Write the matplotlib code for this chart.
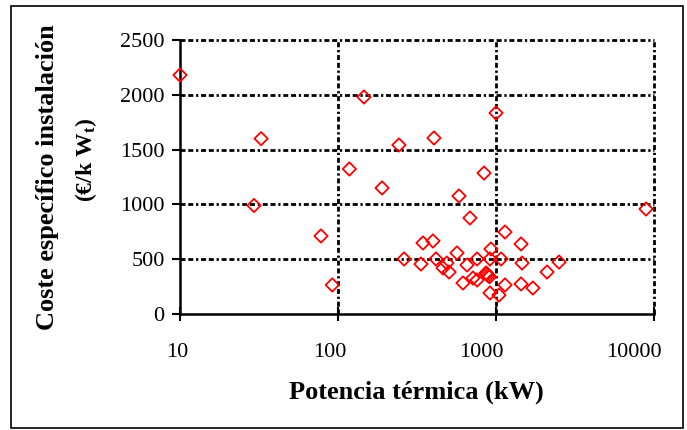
import matplotlib
matplotlib.use("Agg")
import matplotlib.pyplot as plt
import matplotlib.transforms as mtransforms
from matplotlib.patches import Rectangle

# potencia térmica (kW) y coste específico (€/kWt)
potencia = [10, 32.6, 29.4, 78, 92, 118, 146, 190, 243, 262,
            405, 840, 583, 684, 1140, 1000, 8900,
            345, 399, 335, 417, 566, 489, 462, 505, 655,
            618, 759, 715, 759, 865, 875, 890, 910, 929,
            916, 1077, 916, 1045, 1140, 1440, 1462, 2506,
            2104, 1440, 1712]
coste = [2180, 1600, 990, 712, 265, 1323, 1980, 1150, 1542, 502,
         1606, 1286, 1077, 876, 748, 1834, 958,
         648, 666, 456, 502, 557, 465, 420, 383, 447,
         283, 502, 328, 310, 374, 365, 350, 340, 593,
         502, 502, 192, 173, 265, 639, 465, 474,
         383, 274, 237]

x_ticks = [10, 100, 1000, 10000]
y_ticks = [0, 500, 1000, 1500, 2000, 2500]

plt.rcParams['font.family'] = ['Liberation Serif', 'DejaVu Serif']
plt.rcParams['font.size'] = 16
plt.rcParams['mathtext.default'] = 'regular'

fig = plt.figure(figsize=(6.87, 4.30), dpi=100)
ax = fig.add_axes([180 / 687, 1 - 314 / 430, (654 - 180) / 687, (314 - 40) / 430])

ax.scatter(potencia, coste, marker='D', s=46, facecolors='none',
           edgecolors='red', linewidths=1.3, zorder=3, clip_on=False)

ax.set_xscale('log')
ax.set_xlim(10, 10000)
ax.set_ylim(0, 2500)
ax.set_xticks(x_ticks)
ax.set_xticklabels([str(v) for v in x_ticks])
ax.set_yticks(y_ticks)
ax.minorticks_off()

grid_style = dict(color='black', linewidth=2.0, dashes=(1.8, 1.0, 1.8, 1.0, 0.8, 1.0))
for v in y_ticks[1:]:
    ax.axhline(v, clip_on=False, zorder=1, **grid_style)
for v in x_ticks[1:]:
    ax.axvline(v, clip_on=False, zorder=1, **grid_style)

for side in ['top', 'right']:
    ax.spines[side].set_visible(False)
for side in ['left', 'bottom']:
    ax.spines[side].set_linewidth(1.8)

ax.tick_params(axis='y', direction='out', length=6, width=1.5, pad=5)
ax.tick_params(axis='x', direction='inout', length=10, width=1.5, pad=16)

# Excel alinea las etiquetas del eje x a la derecha del tick
offset = mtransforms.ScaledTranslation(8 / 100, 0, fig.dpi_scale_trans)
for lbl in ax.get_xticklabels():
    lbl.set_horizontalalignment('right')
    lbl.set_transform(lbl.get_transform() + offset)

fig.text(416 / 687, 1 - 392 / 430, 'Potencia térmica (kW)', ha='center', va='center',
         fontsize=19, fontweight='bold')
fig.text(48 / 687, 1 - 177 / 430, 'Coste específico instalación', ha='center', va='center',
         rotation=90, fontsize=19, fontweight='bold')
fig.text(86 / 687, 1 - 160 / 430, '(€/k W$_t$)', ha='center', va='center',
         rotation=90, fontsize=17, fontweight='bold')

fig.patches.append(Rectangle((11 / 687, 1 - 428 / 430), (683 - 11) / 687, (428 - 6) / 430,
                             transform=fig.transFigure, fill=False, edgecolor='black',
                             linewidth=1.2))

fig.savefig('out.png', dpi=100)
